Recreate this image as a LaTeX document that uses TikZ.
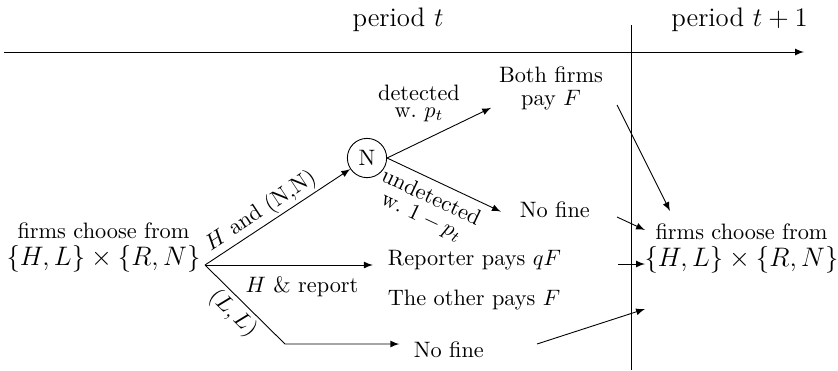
\documentclass[tikz,border=0pt]{standalone}
\begin{document}
\begin{tikzpicture}[x=0.4484pt,y=-0.4484pt,>=latex,
  slab/.style={sloped,inner sep=1pt},
  fate/.style={anchor=base west},
  period/.style={anchor=base,font=\large},
  chance/.style={circle,draw,minimum size=17.6pt,inner sep=0pt}]
\useasboundingbox (0,0) rectangle (838,370);

% time axis and period separator
\node[period] (pt) at (398,26) {period $t$};
\node[period] (pt1) at (739.5,26) {period $t+1$};
\coordinate (axL) at (4,52);
\coordinate (axR) at (804,52);
\draw[->] (axL) -- (axR);
\coordinate (vT) at (631,25);
\coordinate (vB) at (631,370);
\draw (vT) -- (vB);

% left decision node
\node[anchor=base] (left) at (103.5,265) {\shortstack{firms choose from\\{\large$\{H,L\}\times\{R,N\}$}}};
\coordinate (src) at (205,265);

% nature node
\node[chance] (N) at (367,158) {N};
\draw[->] (src) -- node[slab,above,pos=0.44] (lHN) {$H$ and (N,N)} (N);

\node[anchor=base] (both) at (551,105) {\shortstack{Both firms\\pay $F$}};
\node[anchor=base] (det) at (419,117) {\shortstack{detected\\w.\ $p_t$}};
\node[fate] (nf1) at (512,217) {No fine};
\draw[->] (N.east) -- (both.198);
\draw[->,shorten >=5.5pt] (N.east) -- node[sloped,below,pos=0.41] (und) {\shortstack{undetected\\w.\ $1-p_t$}} (nf1.190);

% report branch
\node[fate] (rep) at (380,265) {Reporter pays $qF$};
\node[fate] (oth) at (380,305) {The other pays $F$};
\node[anchor=base] (hrep) at (302,292) {$H$ \& report};
\draw[->,shorten >=3.2pt] (src) -- (src -| rep.west);

% low price branch
\coordinate (c1) at (285,344);
\node[fate] (nf2) at (406,357) {No fine};
\draw[->,shorten >=3pt] (src) -- node[slab,below,pos=0.48,inner sep=1.5pt] (lLL) {$(L,L)$} (c1) -- (c1 -| nf2.west);

% next period node
\node[anchor=base] (right) at (741.5,266) {\shortstack{firms choose from\\{\large$\{H,L\}\times\{R,N\}$}}};

% arrows into next period
\coordinate (a0) at (617,105); \coordinate (a1) at (670,211);
\coordinate (b0) at (617,217); \coordinate (b1) at (645,230);
\coordinate (c0) at (618,264); \coordinate (c2) at (645,264);
\coordinate (d0) at (537,344); \coordinate (d1) at (645,309);
\draw[->] (a0) -- (a1);
\draw[->] (b0) -- (b1);
\draw[->] (c0) -- (c2);
\draw[->] (d0) -- (d1);
\end{tikzpicture}
\end{document}
